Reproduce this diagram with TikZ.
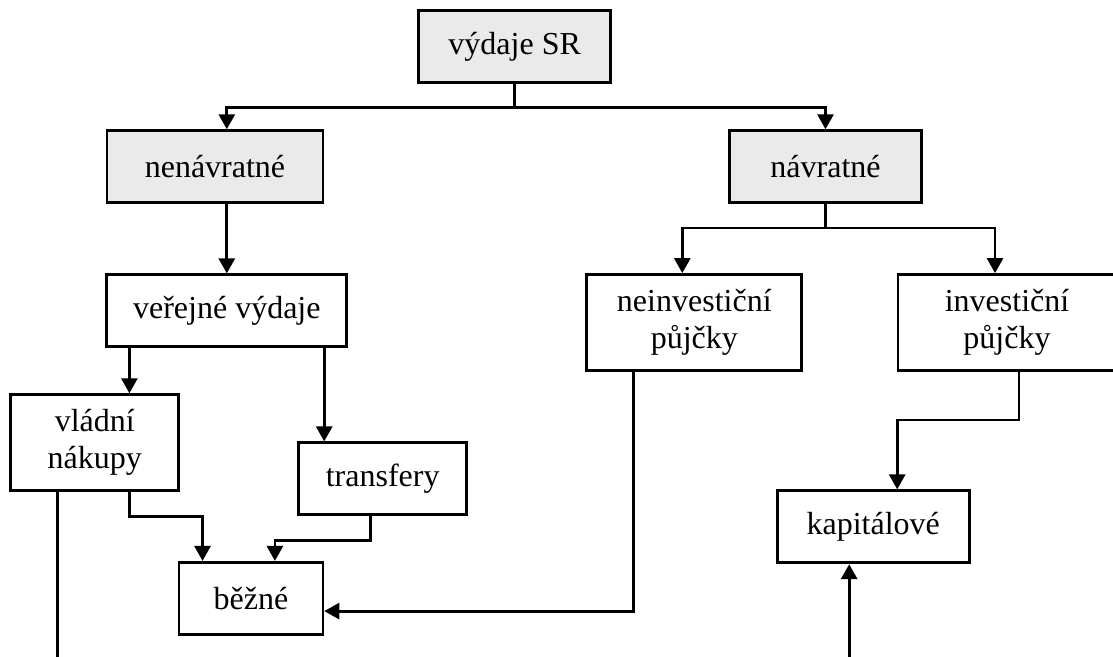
\documentclass[tikz,border=0pt]{standalone}
\usepackage{fontspec}
\setmainfont{Liberation Serif}
\usepackage{tikz}
\usetikzlibrary{
  positioning,
  arrows.meta,
  calc
}
\usepackage{xcolor}
\definecolor{head}{HTML}{EAEAEA}

\begin{document}
\begin{tikzpicture}[
  x=0.5pt, y=-0.5pt,
  box/.style={draw, line width=1.4pt, inner sep=0pt, align=center,
              font=\fontsize{16}{18.5}\selectfont, minimum height=36pt},
  tall/.style={minimum height=48pt},
  arr/.style={line width=1.4pt, -{Triangle[width=8pt,length=7.5pt]}},
  rarr/.style={line width=1.4pt, {Triangle[width=8pt,length=7.5pt]}-},
  line/.style={line width=1.4pt},
]
  \useasboundingbox (0,0) rectangle (1113,657);

  \node[box, fill=head, minimum width=96pt] (sr) at (514.7, 46.5) {výdaje SR};
  \node[box, fill=head, minimum width=108pt] (nenavr) at (215, 166.7) {nenávratné};
  \node[box, fill=head, minimum width=96pt] (navr) at (825.5, 166.7) {návratné};
  \node[box, minimum width=120pt] (verejne) at (226.8, 310.8) {veřejné výdaje};
  \node[box, tall, minimum width=107.5pt] (neinv) at (694.3, 322.5) {neinvestiční\\půjčky};
  \node[box, tall, minimum width=109pt] (inv) at (1007, 322.5) {investiční\\půjčky};
  \node[box, tall, minimum width=84pt] (vladni) at (94.8, 442.7) {vládní\\nákupy};
  \node[box, minimum width=84pt] (transfery) at (382.7, 478.8) {transfery};
  \node[box, minimum width=72pt] (bezne) at (250.9, 598.3) {běžné};
  \node[box, minimum width=96pt] (kapital) at (873.2, 526.8) {kapitálové};

  \draw[arr] (sr.south) -- ++(0,24) -| (verejne.north |- nenavr.north);
  \draw[arr] (sr.south) -- ++(0,24) -| (navr.north);
  \draw[arr] (nenavr.south -| verejne.north) -- (verejne.north);
  \draw[arr] (navr.south) -- ++(0,24) -| ([xshift=-6pt]neinv.north);
  \draw[arr] (navr.south) -- ++(0,24) -| ([xshift=-6pt]inv.north);

  \draw[arr] ([xshift=12pt]verejne.south west) coordinate (vv) -- (vv |- vladni.north);
  \draw[arr] ([xshift=-12pt]verejne.south east) coordinate (vt) -- (vt |- transfery.north);
  \draw[arr] (vv |- vladni.south) -- ++(0,24) -| ([xshift=12.5pt]bezne.north west);
  \draw[arr] ([xshift=-6pt]transfery.south) -- ++(0,24) -| ([xshift=12pt]bezne.north);
  \draw[arr] ([xshift=24pt]neinv.south west) |- ([yshift=-6.4pt]bezne.east);
  \draw[arr] ([xshift=6pt]inv.south) -- ++(0,48) -| ([xshift=12pt]kapital.north);

  \draw[line] ([xshift=24pt]vladni.south west) -- ++(0,200);
  \draw[rarr] ([xshift=-12pt]kapital.south) -- ++(0,120);
\end{tikzpicture}
\end{document}
